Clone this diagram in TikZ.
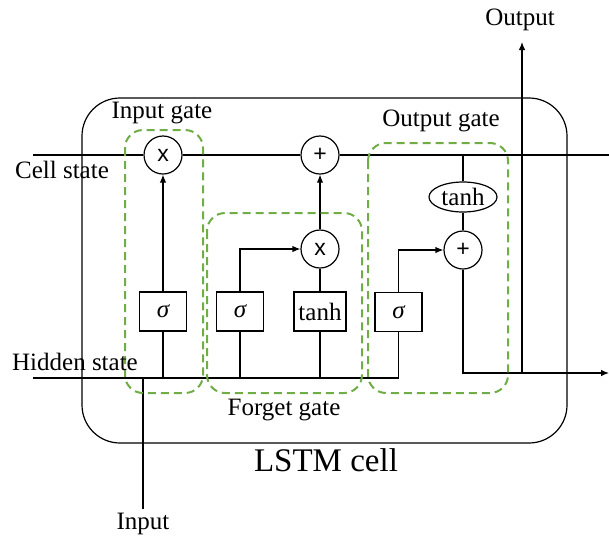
\documentclass[tikz,border=0pt]{standalone}
\usepackage{fontspec}
\setmainfont{Liberation Serif}
\newfontfamily\opfont{Liberation Sans}
\usetikzlibrary{shapes.geometric, arrows.meta}
\definecolor{gatecol}{RGB}{112,173,71}

\begin{document}
\begin{tikzpicture}[>={Latex[length=8pt,width=6.5pt]}, x=1pt, y=-1pt, line width=1.2pt,
  lbl/.style={font=\fontsize{25}{28}\selectfont, inner sep=0pt},
  actbox/.style={draw, fill=white, minimum width=47pt, minimum height=39pt, inner sep=0pt, font=\fontsize{25}{28}\selectfont},
  opcirc/.style={draw, fill=white, circle, minimum size=38pt, inner sep=0pt, font=\opfont\fontsize{23}{26}\selectfont},
  gatebox/.style={draw=gatecol, line width=2pt, dash pattern=on 8pt off 5pt, rounded corners=18pt}]

\useasboundingbox (0,0) rectangle (609,536);

% LSTM cell
\draw[rounded corners=38pt] (82,98) rectangle (567,443);
\node[font=\fontsize{33}{36}\selectfont, inner sep=0pt] (cellname) at (326,460) {LSTM cell};

% Cell state
\coordinate (cellL) at (33,155);
\coordinate (cellR) at (609,155);
\node[opcirc] (mulI) at (163,155) {x};
\node[opcirc] (addC) at (320,155) {+};
\draw (cellL) -- (mulI) -- (addC) -- (cellR);

% Hidden state
\coordinate (hidL) at (33,378);
\coordinate (hidR) at (398.5,378);
\draw (hidL) -- (hidR);

% Gate activations
\node[actbox] (sigI) at (163,311.5) {\itshape σ};
\node[actbox] (sigF) at (240,311.5) {\itshape σ};
\node[actbox, minimum width=52pt] (tanhF) at (320,311.5) {tanh};
\node[actbox] (sigO) at (398.5,312) {\itshape σ};
\foreach \b in {sigI,sigF,tanhF,sigO}
  \draw (\b.south) -- (\b.south |- hidL);

% Input gate
\draw[->] (sigI) -- (mulI);

% Forget gate
\node[opcirc] (mulF) at (320,249) {x};
\draw[->] (sigF.north) |- (mulF.west);
\draw (tanhF) -- (mulF);
\draw[->] (mulF) -- (addC);

% Output gate
\node[opcirc] (addO) at (463,250) {+};
\node[draw, ellipse, minimum width=68pt, minimum height=30pt, lbl] (tanhO) at (463,197) {tanh};
\draw[->] (sigO.north) |- (addO.west);
\draw (addO) -- (tanhO);
\draw (tanhO) -- (tanhO |- cellL);
\coordinate (hidOut) at (609,373);
\draw[->] (addO.south) |- (hidOut);

% Output and input
\coordinate (outTop) at (522,42);
\draw[->] (outTop |- hidOut) -- (outTop);
\coordinate (inBot) at (143,509);
\draw (inBot |- hidL) -- (inBot);

% Gates
\draw[gatebox] (125,130) rectangle (203,393);
\draw[gatebox] (207,213) rectangle (362,393);
\draw[gatebox] (368,143) rectangle (508,393);

% Labels
\node[lbl] (outlbl) at (520,20) {Output};
\node[lbl] (inglbl) at (162,113) {Input gate};
\node[lbl] (outglbl) at (441,121) {Output gate};
\node[lbl] (celllbl) at (62,170) {Cell state};
\node[lbl] (hidlbl) at (75,362) {Hidden state};
\node[lbl] (fglbl) at (284,410) {Forget gate};
\node[lbl] (inlbl) at (143,524) {Input};

\end{tikzpicture}
\end{document}
